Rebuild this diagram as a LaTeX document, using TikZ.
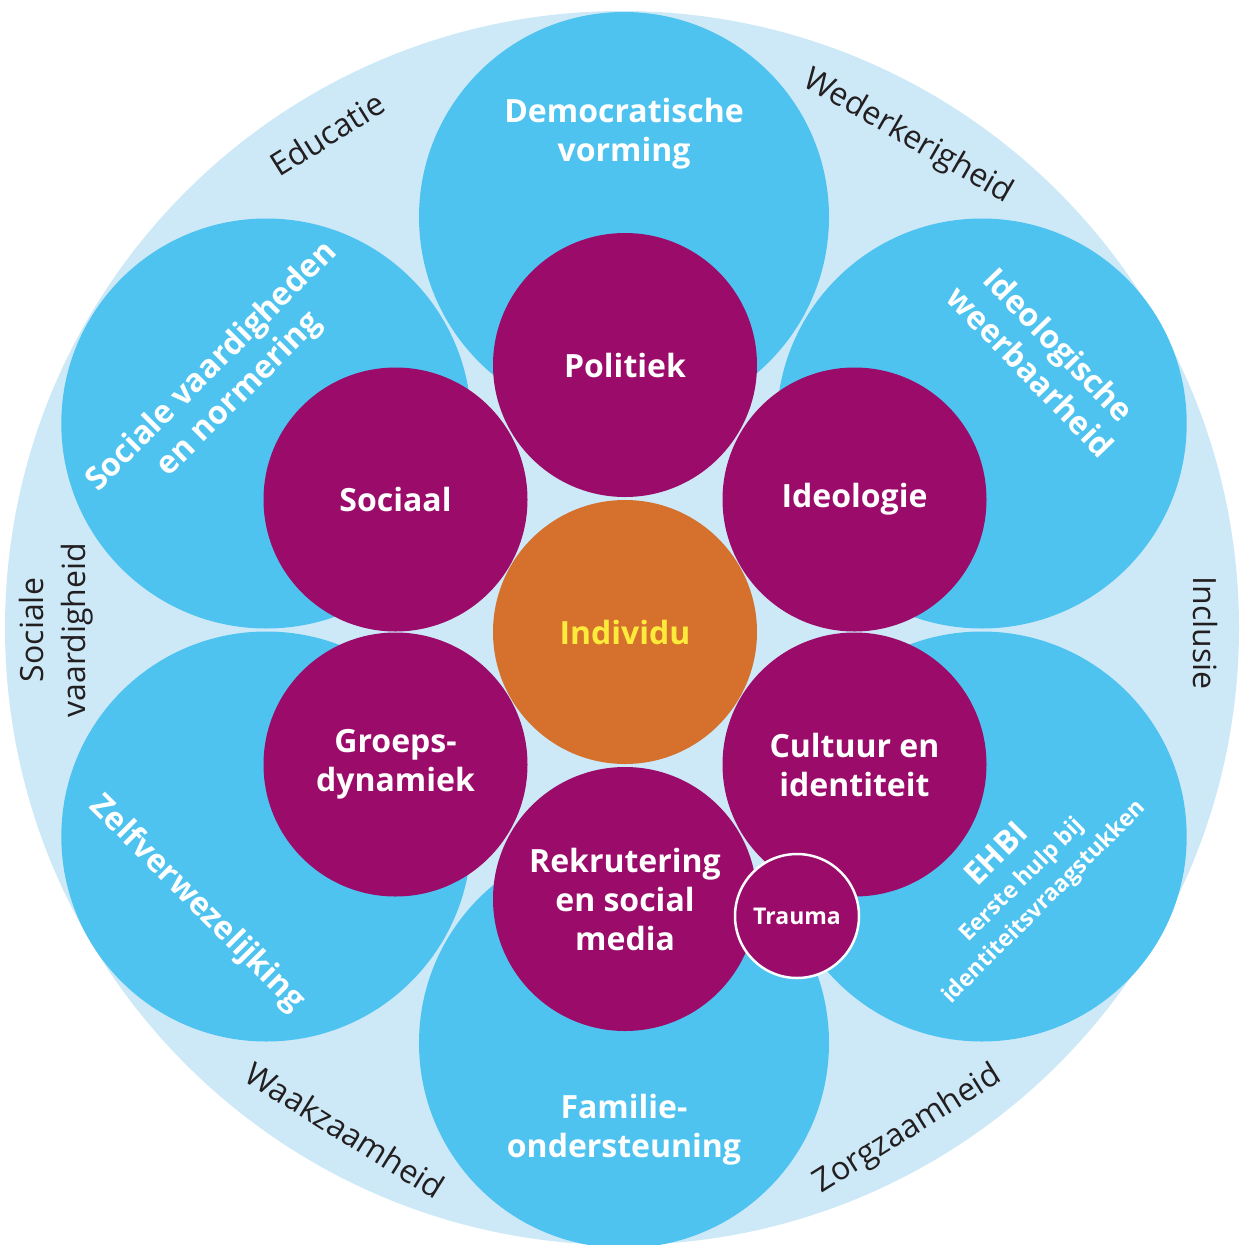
\documentclass[tikz,border=0pt]{standalone}
\usepackage{fontspec}
\setmainfont{Open Sans}
\definecolor{bgblue}{HTML}{CDE9F8}
\definecolor{midblue}{HTML}{4EC3F0}
\definecolor{plum}{HTML}{9B0B69}
\definecolor{orng}{HTML}{D6702D}
\definecolor{yel}{HTML}{FDEB3C}
\definecolor{ink}{HTML}{231F20}
\begin{document}
\begin{tikzpicture}[x=1pt,y=-1pt,
  outerdisc/.style={circle,fill=bgblue,minimum size=1234pt,inner sep=0pt},
  blob/.style={circle,fill=midblue,minimum size=410pt,inner sep=0pt},
  core/.style={circle,fill=plum,minimum size=264pt,inner sep=0pt,text=white,
    font=\bfseries\fontsize{32}{39}\selectfont,align=center},
  bluelabel/.style={text=white,font=\bfseries\fontsize{32}{39}\selectfont,align=center,inner sep=0pt},
  ringlabel/.style={text=ink,font=\fontsize{32}{42}\selectfont,align=center,inner sep=0pt}]
\useasboundingbox (0,0) rectangle (1240,1245);
\clip (0,0) rectangle (1240,1245);
% background disc
\node[outerdisc] (bg) at (622,628) {};
% six blue discs
\node[blob] (bTop) at (624,217) {};
\node[blob] (bBot) at (624,1043) {};
\node[blob] (bTL) at (266.3,423.5) {};
\node[blob] (bTR) at (981.7,423.5) {};
\node[blob] (bBL) at (266.3,836.5) {};
\node[blob] (bBR) at (981.7,836.5) {};
% blue labels
\node[bluelabel] (tDemo) at (624,134) {Democratische\\vorming};
\node[bluelabel] (tFam) at (624,1130) {Familie-\\ondersteuning};
\node[bluelabel,rotate=45] (tSoc) at (226,381) {Sociale vaardigheden\\en normering};
\node[bluelabel,rotate=-46] (tIdeo) at (1045,358) {Ideologische\\weerbaarheid};
\node[bluelabel,rotate=-45] (tZelf) at (197,904) {Zelfverwezelijking};
\node[bluelabel,rotate=45,font=\bfseries\fontsize{23}{31}\selectfont] (tEhbi) at (1020,878)
  {\fontsize{32}{38}\selectfont EHBI\\[2pt]Eerste hulp bij\\identiteitsvraagstukken};
% purple discs
\node[core] (pPol) at (625,365) {Politiek};
\node[core] (pSoc) at (395.5,499.5) {Sociaal};
\node[core] (pIdeo) at (854.5,499.5) {Ideologie};
\node[core] (pGro) at (395.5,764.5) {Groeps-\\dynamiek};
\node[core] (pCul) at (854.5,764.5) {Cultuur en\\identiteit};
\node[core] (pRek) at (625,899) {Rekrutering\\en social\\media};
\node[core,fill=orng,text=yel] (pInd) at (625,632) {Individu};
\node[circle,fill=plum,draw=white!85!bgblue,line width=2.5pt,minimum size=124pt,inner sep=0pt,
  text=white,font=\bfseries\fontsize{23}{28}\selectfont] (pTra) at (797,916) {Trauma};
% ring labels
\node[ringlabel,rotate=32] (rEdu) at (327,134) {Educatie};
\node[ringlabel,rotate=-30] (rWed) at (908,137) {Wederkerigheid};
\node[ringlabel,rotate=-90] (rInc) at (1205,633) {Inclusie};
\node[ringlabel,rotate=90] (rSoc) at (56,630) {Sociale\\vaardigheid};
\node[ringlabel,rotate=-32] (rWaak) at (345,1130) {Waakzaamheid};
\node[ringlabel,rotate=32] (rZorg) at (908,1130) {Zorgzaamheid};
\end{tikzpicture}
\end{document}
